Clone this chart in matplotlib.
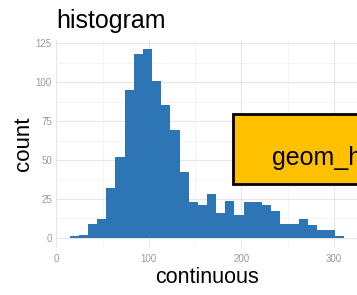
import numpy as np
import matplotlib
matplotlib.use('Agg')
import matplotlib.pyplot as plt
from matplotlib.patches import Rectangle

plt.rcParams['font.family'] = ['Liberation Sans', 'DejaVu Sans']

#------ Datos --------------------------
counts = [1, 2, 9, 12, 32, 52, 95, 118, 121, 101, 85, 69, 42, 23, 21,
          28, 16, 24, 15, 23, 23, 21, 17, 9, 9, 12, 8, 5, 5, 1]
x_min, x_max = 14.4, 311.3
edges = np.linspace(x_min, x_max, len(counts) + 1)

x_ticks = [0, 100, 200, 300]
y_ticks = [0, 25, 50, 75, 100, 125]

bar_color = '#2E75B6'
box_color = '#FFC000'

#------ Figura -------
W, H = 357, 295
fig = plt.figure(figsize=(W / 100, H / 100), dpi=100)
ax = fig.add_axes([56 / W, 47.6 / H, (W - 56) / W, 207.5 / H])

ax.stairs(counts, edges, fill=True, color=bar_color, lw=0)

ax.set_xlim(-0.4, 325)
ax.set_ylim(-6.05, 127.05)
ax.set_xticks(x_ticks)
ax.set_yticks(y_ticks)
ax.set_xticks([50, 150, 250], minor=True)
ax.set_yticks(np.arange(12.5, 127, 25), minor=True)
ax.grid(True, which='major', color='#E6E6E6', lw=0.8)
ax.grid(True, which='minor', color='#F2F2F2', lw=0.6)
ax.set_axisbelow(True)
for s in ax.spines.values():
    s.set_visible(False)
ax.tick_params(which='both', length=0, labelsize=7, labelcolor='#999999')
ax.tick_params(axis='y', pad=3)
ax.tick_params(axis='x', pad=5)

ax.set_xlabel('continuous', fontsize=15.5, labelpad=2)
ax.set_ylabel('count', fontsize=16, labelpad=1)
fig.text(56 / W, 1 - 28 / H, 'histogram', fontsize=18, ha='left', va='baseline')

#------ Recuadro naranja -------
box = Rectangle((233 / W, 1 - 184 / H), 140 / W, 70 / H, transform=fig.transFigure,
                facecolor=box_color, edgecolor='black', lw=2, clip_on=False)
fig.patches.append(box)
fig.text(272 / W, 1 - 165 / H, 'geom_histogram', fontsize=18, ha='left', va='baseline')

fig.savefig('out.png', dpi=100)
